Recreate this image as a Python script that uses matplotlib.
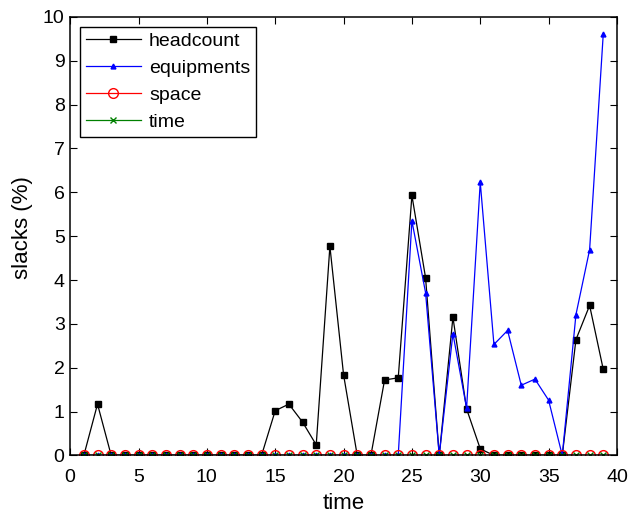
import numpy as np
import matplotlib
matplotlib.use('Agg')
import matplotlib.pyplot as plt

# --- Data ---
t = np.arange(1, 40)
headcount = [0, 1.17, 0, 0, 0, 0, 0, 0, 0, 0,
             0, 0, 0, 0, 1.02, 1.17, 0.76, 0.24, 4.77, 1.84,
             0, 0, 1.72, 1.77, 5.93, 4.05, 0, 3.15, 1.06, 0.15,
             0, 0, 0, 0, 0, 0, 2.64, 3.42, 1.96]
equipments = [0, 0, 0, 0, 0, 0, 0, 0, 0, 0,
              0, 0, 0, 0, 0, 0, 0, 0, 0, 0,
              0, 0, 0, 0, 5.35, 3.71, 0, 2.78, 1.08, 6.23,
              2.53, 2.85, 1.6, 1.74, 1.26, 0, 3.21, 4.69, 9.62]
space = [0] * 39
time_slack = [0] * 39

plt.rcParams['font.family'] = ['Liberation Sans', 'DejaVu Sans']

fig = plt.figure(figsize=(6.38, 5.14), dpi=100)
ax = fig.add_axes([0.11, 0.114, 0.857, 0.853])

ax.plot(t, headcount, '-', color='black', lw=0.9, marker='s', ms=4.5, label='headcount')
ax.plot(t, equipments, '-', color='blue', lw=0.9, marker='^', ms=3.5, label='equipments')
ax.plot(t, space, '-', color='red', lw=0.9, marker='o', ms=7, mfc='none', label='space')
ax.plot(t, time_slack, '-', color='green', lw=0.9, marker='x', ms=5, label='time')

ax.set_xlim(0, 40)
ax.set_ylim(0, 10)
ax.set_xticks(range(0, 41, 5))
ax.set_yticks(range(0, 11))
ax.tick_params(direction='in', top=True, right=True, labelsize=14, length=5)
ax.tick_params(axis='x', pad=10)
ax.tick_params(axis='y', pad=4)
for s in ax.spines.values():
    s.set_linewidth(1.1)
ax.set_xlabel('time', fontsize=16, labelpad=5)
ax.set_ylabel('slacks (%)', fontsize=16)
ax.yaxis.set_label_coords(-0.068, 0.519)

leg = ax.legend(loc='upper left', fontsize=14, fancybox=False, edgecolor='black',
                framealpha=1, borderaxespad=0.5, handlelength=2.85, handletextpad=0.4,
                labelspacing=0.48, borderpad=0.3)
leg.get_frame().set_linewidth(1.0)

fig.savefig('out.png', dpi=100)
